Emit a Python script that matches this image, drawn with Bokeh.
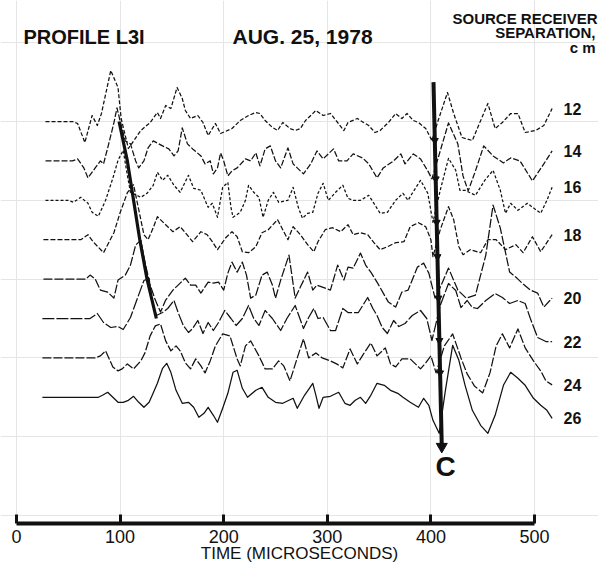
import numpy as np
from bokeh.plotting import figure
from bokeh.models import Range1d, LinearAxis, FixedTicker
from bokeh.core.properties import value
from bokeh.embed import file_html
from bokeh.resources import INLINE

# ---------------- data (time in microseconds, amplitude in display units) -------------
SEPARATIONS = [12, 14, 16, 18, 20, 22, 24, 26]

T12 = [28,54,59,66,73,78,82,91,98,101,108,120,129,136,139,144,149,155,160,163,168,175,180,185,192,197,208,216,224,231,235,240,247,252,257,264,269,274,279,289,296,303,310,316,320,329,335,340,346,351,359,366,372,377,383,388,395,401,407,416,422,430,440,446,455,462,469,477,484,491,501,509,517]
A12 = [0,0,-2,-21,6,-4,8,51,34,3,-27,-9,-1,9,3,16,13,34,23,11,3,6,-1,-14,-2,-12,-7,1,6,9,8,1,-6,-9,-1,-7,-9,-7,1,11,6,8,-1,-9,-1,3,-1,-4,-11,-9,-1,8,3,8,1,-1,-7,-19,1,29,8,-16,-19,-4,18,-7,-1,8,8,-11,-9,-4,13]

T14 = [28,54,59,65,69,76,81,84,89,94,97,100,105,110,115,118,123,127,132,141,147,152,156,160,165,170,178,182,187,190,194,197,200,204,208,213,221,226,231,235,240,245,250,255,262,267,277,284,290,296,306,311,319,325,334,340,348,354,364,371,375,383,390,397,401,409,417,426,431,436,443,451,460,470,477,486,498,509,517]
A14 = [0,0,2,-7,-17,-7,0,-3,17,38,53,40,20,17,0,-7,0,13,20,15,12,5,10,33,17,12,5,-3,0,-13,-7,8,0,-15,-10,-7,2,0,8,-5,12,15,0,-7,13,-3,-13,-3,10,2,12,0,0,7,3,-3,-17,-7,0,7,-3,7,2,-10,-18,10,38,17,-15,-30,-10,15,5,-2,3,0,-20,-3,10]

T16 = [28,50,55,62,69,73,79,86,93,98,103,107,110,120,126,132,136,141,146,152,158,166,171,178,182,185,189,194,199,204,207,209,216,221,224,229,234,238,243,248,253,262,267,272,276,281,286,291,296,301,308,315,320,325,332,340,345,351,358,366,373,378,382,390,397,402,409,417,424,428,433,443,452,460,467,472,477,484,493,506,512,517]
A16 = [0,0,-2,3,-3,-12,-16,0,22,40,50,25,8,3,7,15,28,20,25,15,8,25,12,10,0,-7,-3,-17,13,18,-7,-17,-12,0,15,8,3,-17,0,8,-2,0,13,-7,-18,-13,-12,7,17,0,8,15,2,0,0,5,-3,-13,-12,0,7,0,7,20,7,-22,10,42,30,10,10,5,20,30,10,-13,-3,-10,-3,-13,0,13]

T18 = [26,62,69,74,84,94,100,107,113,118,123,127,132,136,144,151,158,163,170,178,184,189,194,202,208,213,218,224,231,237,243,252,257,262,267,274,281,287,291,298,305,313,320,325,332,339,345,351,358,366,374,380,388,395,400,402,409,417,422,427,431,438,448,455,463,472,482,489,498,506,517]
A18 = [0,0,5,-2,-13,7,27,47,55,30,5,0,12,23,15,8,13,7,-2,8,5,-2,-10,2,8,3,-12,-13,-7,7,10,20,10,0,13,5,-5,-12,-2,10,12,8,15,5,7,5,-3,-10,-7,-3,-2,13,17,13,0,-17,10,33,20,-7,-15,-10,-13,0,0,-10,-5,-13,3,-12,5]

T20 = [26,67,71,76,81,88,94,98,105,110,115,120,124,129,134,139,144,151,156,163,168,173,178,185,190,195,200,204,208,213,218,222,226,231,237,242,247,250,255,263,269,274,281,286,290,303,310,316,320,325,332,337,342,348,354,359,366,372,378,387,393,398,404,410,417,426,434,443,453,460,467,476,483,488,496,503,509,517]
A20 = [0,0,4,0,-11,-13,-19,-1,4,14,34,39,17,-6,-21,-33,-21,-11,-6,1,-6,-6,-14,-3,-4,-3,-11,6,17,7,17,4,-19,-16,4,7,-6,-19,-1,24,-19,-8,7,-11,-6,-11,14,-1,12,11,26,14,7,-3,-14,-23,-28,-13,-11,12,16,6,-19,-6,11,-11,-19,-16,24,74,51,7,1,-4,-11,-14,-28,-19]

T22 = [25,71,78,84,91,98,103,110,117,123,128,131,135,141,146,152,156,161,166,170,175,180,185,190,195,201,207,212,218,224,229,234,240,247,255,261,269,277,282,287,291,296,303,308,315,320,324,330,339,344,348,353,358,364,369,375,382,390,396,401,409,417,424,429,435,440,445,453,462,469,476,484,491,496,503,511,517]
A22 = [0,0,5,-4,-9,-8,-11,1,21,38,40,18,3,6,10,18,6,-7,-14,-10,-2,-15,-4,-12,-4,8,0,-7,0,13,0,-7,8,0,-12,0,13,-10,1,10,0,1,-12,-12,10,6,6,6,21,10,3,-9,-15,-2,-8,-5,3,8,0,-22,13,35,28,11,18,11,10,18,25,21,15,18,15,0,-19,-23,-23]

T24 = [25,76,81,86,93,98,102,107,113,120,124,129,134,139,144,149,154,158,163,168,173,178,182,187,192,199,206,213,216,221,226,234,240,247,253,258,264,271,277,282,289,295,303,309,315,322,329,335,342,348,356,361,366,372,380,390,395,400,405,413,421,429,435,442,450,457,463,469,476,484,491,499,506,511,517]
A24 = [0,0,2,7,-9,-13,-11,-6,-11,-3,5,22,32,34,17,7,12,7,-5,-11,-1,-8,-15,-3,12,24,22,-1,-8,12,17,2,-11,-11,-3,-8,-23,0,19,0,5,0,-3,-6,-10,9,-6,4,15,2,10,-6,-9,-1,-1,-11,-5,2,-15,12,24,0,-16,-28,-35,-15,12,24,10,29,10,-3,-13,-23,-27]

T26 = [25,79,83,88,98,103,108,113,118,123,128,131,136,141,145,149,154,160,166,171,176,181,185,190,194,199,204,209,213,218,223,231,237,243,250,257,263,267,271,278,286,289,292,296,303,311,317,322,327,332,337,342,348,355,361,368,373,380,388,393,398,402,408,414,421,427,433,440,448,455,462,470,477,484,491,499,506,512,517]
A26 = [0,0,2,5,-5,-5,-3,1,-5,-10,-5,2,14,29,34,25,7,-6,-5,-10,-20,-16,-10,-18,-25,-11,4,25,27,9,0,7,10,0,-5,-6,-3,-1,-11,2,14,2,-11,0,1,5,-6,-8,-3,0,-6,2,14,12,7,4,0,-5,-10,-1,-8,-23,-36,7,52,37,12,-13,-28,-36,-18,12,25,19,12,-1,-8,-13,-21]

TRACE_T = [T12, T14, T16, T18, T20, T22, T24, T26]
TRACE_A = [A12, A14, A16, A18, A20, A22, A24, A26]
TRACE_LABELS = ["12", "14", "16", "18", "20", "22", "24", "26"]

# first-arrival picks (microseconds) for separations 12..22
FIRST_PICK_SEP = [12, 14, 16, 18, 20, 22]
FIRST_PICK_T = [99, 107, 113, 119, 126, 135]
# "C" arrival line (time, separation) end points
C_LINE_SEP = [10, 28.5]
C_LINE_T = [402.5, 410.5]

TICKS = [0, 100, 200, 300, 400, 500]

# ---------------- layout helpers ----------------
GAIN = 1.0 / 39.4           # amplitude display units -> trace spacing units
def base(sep):
    return -(sep - 12) / 2.0

def X(px):                   # page pixel -> time (used only to place texts)
    return (px - 16) / 1.036

def Y(py):
    return (121 - py) / 39.4

FONT = value("Liberation Sans")
INK = "#111111"

p = figure(output_backend="svg", toolbar_location=None,
           x_range=Range1d(X(0), X(598)), y_range=Range1d(Y(523), Y(0)),
           x_axis_location=None, y_axis_location=None,
           width=598, height=570, min_border=0, min_border_bottom=47)
p.outline_line_color = None
p.background_fill_color = "white"
p.border_fill_color = "white"

DASHES = ["4 2", "6 2", "3 2", "5 2", "9 2", "12 2", "9 2", "solid"]

for sep, t, a, dash in zip(SEPARATIONS, TRACE_T, TRACE_A, DASHES):
    y = base(sep) + np.array(a) * GAIN
    p.line(t, y, line_color=INK, line_width=1.25, line_dash=dash, line_join="round")

# trace labels at trace ends
lab_x = [t[-1] + 11 for t in TRACE_T]
lab_y = [base(s) + a[-1] * GAIN for s, a in zip(SEPARATIONS, TRACE_A)]
p.text(x=lab_x, y=lab_y, text=TRACE_LABELS, text_font=FONT, text_font_size="16px",
       text_font_style="bold", text_baseline="middle", text_align="left", text_color=INK)

# first-arrival line
p.line(FIRST_PICK_T, [base(s) for s in FIRST_PICK_SEP], line_color=INK, line_width=3.2)

# C line with arrowheads at the troughs
c_y = [base(s) for s in C_LINE_SEP]
p.line(C_LINE_T, c_y, line_color=INK, line_width=4)
arrow_y, arrow_x = [], []
for sep, t, a in zip(SEPARATIONS, TRACE_T, TRACE_A):
    t = np.array(t); a = np.array(a)
    m = (t >= 396) & (t <= 412)
    ymin = base(sep) + a[m].min() * GAIN
    arrow_y.append(ymin)
    arrow_x.append(float(np.interp(-ymin, [-c_y[0], -c_y[1]], C_LINE_T)))
p.scatter(arrow_x[:-1], arrow_y[:-1], marker="inverted_triangle", size=7, color=INK)
p.scatter([C_LINE_T[1]], [c_y[1]], marker="inverted_triangle", size=11, color=INK)
p.text(x=[X(445)], y=[Y(466)], text=["C"], text_font=FONT, text_font_size="28px",
       text_font_style="bold", text_baseline="middle", text_align="center", text_color=INK)

# header texts
p.text(x=[X(23)], y=[Y(36)], text=["PROFILE L3I"], text_font=FONT, text_font_size="20px",
       text_font_style="bold", text_baseline="middle", text_align="left", text_color=INK)
p.text(x=[X(232)], y=[Y(36)], text=["AUG. 25, 1978"], text_font=FONT, text_font_size="21px",
       text_font_style="bold", text_baseline="middle", text_align="left", text_color=INK)
p.text(x=[X(597)], y=[Y(18)], text=["SOURCE RECEIVER"], text_font=FONT, text_font_size="15px",
       text_font_style="bold", text_baseline="middle", text_align="right", text_color=INK)
p.text(x=[X(595)], y=[Y(32)], text=["SEPARATION,"], text_font=FONT, text_font_size="15px",
       text_font_style="bold", text_baseline="middle", text_align="right", text_color=INK)
p.text(x=[X(595)], y=[Y(47)], text=["c m"], text_font=FONT, text_font_size="15px",
       text_font_style="bold", text_baseline="middle", text_align="right", text_color=INK)

# time axis
xaxis = LinearAxis(ticker=FixedTicker(ticks=TICKS), bounds=(0, 500))
xaxis.axis_line_width = 4
xaxis.axis_line_color = INK
xaxis.major_tick_in = 9
xaxis.major_tick_out = 0
xaxis.major_tick_line_width = 3
xaxis.major_tick_line_color = INK
xaxis.minor_tick_line_color = None
xaxis.major_label_text_font = "Liberation Sans"
xaxis.major_label_text_font_size = "18px"
xaxis.major_label_text_color = INK
xaxis.major_label_standoff = 6
xaxis.axis_label = "TIME (MICROSECONDS)"
xaxis.axis_label_text_font = "Liberation Sans"
xaxis.axis_label_text_font_size = "17px"
xaxis.axis_label_text_font_style = "normal"
xaxis.axis_label_text_color = INK
xaxis.axis_label_standoff = -2
p.add_layout(xaxis, "below")

open("out.html", "w").write(file_html(p, INLINE))
